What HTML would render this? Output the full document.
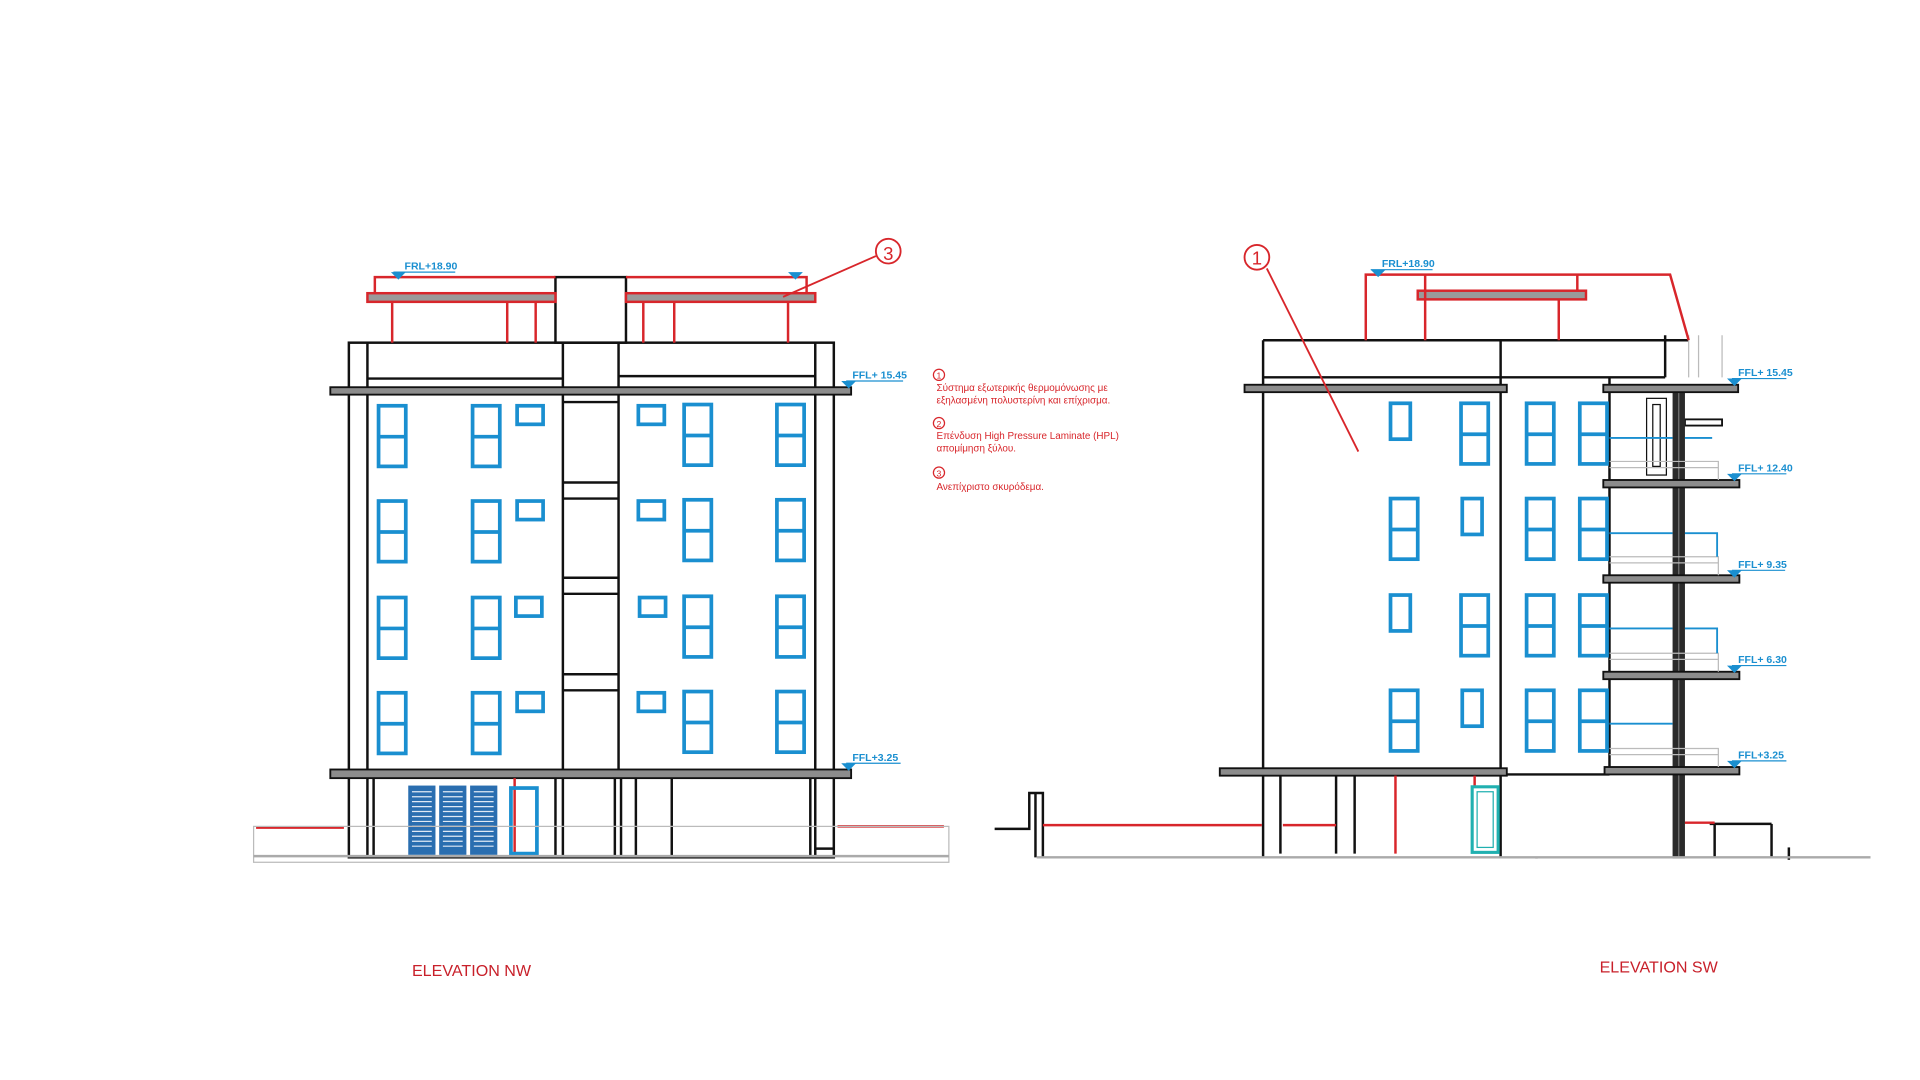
<!DOCTYPE html>
<html><head><meta charset="utf-8"><style>html,body{margin:0;padding:0;background:#fff;width:1920px;height:1080px;overflow:hidden}svg{display:block}</style></head><body>
<svg width="1920" height="1080" viewBox="0 0 1552 873" preserveAspectRatio="none" xmlns="http://www.w3.org/2000/svg" font-family="Liberation Sans, Noto Sans CJK SC, sans-serif">
<defs>
<g id="tw"><rect x="0" y="0" width="22" height="49" fill="none" stroke="#1a8fd0" stroke-width="3"/><line x1="0" y1="25" x2="22" y2="25" stroke="#1a8fd0" stroke-width="3"/></g>
<g id="swl"><rect x="0" y="0" width="21" height="15" fill="none" stroke="#1a8fd0" stroke-width="3"/></g>
<g id="swr"><rect x="0" y="0" width="16" height="29" fill="none" stroke="#1a8fd0" stroke-width="3"/></g>
<g id="lev"><path d="M-6,0 L6,0 L0,6 Z" fill="#1a8fd0"/></g>
</defs>
<g stroke="#111" stroke-width="2" fill="none">
<!-- LEFT BUILDING -->
<rect x="282" y="277" width="392" height="416"/>
<line x1="297" y1="277" x2="297" y2="693"/><line x1="659" y1="277" x2="659" y2="693"/>
<line x1="455" y1="277" x2="455" y2="622"/><line x1="500" y1="277" x2="500" y2="622"/>
<line x1="297" y1="306" x2="455" y2="306"/><line x1="500" y1="304" x2="659" y2="304"/>
<rect x="449" y="224" width="57" height="53"/>
<line x1="455" y1="390" x2="500" y2="390"/><line x1="455" y1="403" x2="500" y2="403"/>
<line x1="455" y1="467" x2="500" y2="467"/><line x1="455" y1="480" x2="500" y2="480"/>
<line x1="455" y1="545" x2="500" y2="545"/><line x1="455" y1="558" x2="500" y2="558"/>
<line x1="455" y1="325" x2="500" y2="325"/>
<line x1="302" y1="629" x2="302" y2="692"/><line x1="449" y1="629" x2="449" y2="692"/><line x1="455" y1="629" x2="455" y2="692"/>
<line x1="497" y1="629" x2="497" y2="692"/><line x1="502" y1="629" x2="502" y2="692"/><line x1="514" y1="629" x2="514" y2="692"/><line x1="543" y1="629" x2="543" y2="692"/>
<line x1="655" y1="629" x2="655" y2="692"/><line x1="659" y1="686" x2="674" y2="686"/>
</g>
<rect x="267" y="313" width="421" height="6" fill="#8c8c8c" stroke="#111" stroke-width="1.5"/>
<rect x="267" y="622" width="421" height="7" fill="#8c8c8c" stroke="#111" stroke-width="1.5"/>
<!-- red roof left -->
<g stroke="#d8262b" stroke-width="2" fill="none">
<rect x="297" y="237" width="152" height="7" fill="#9a9a9a"/><rect x="506" y="237" width="153" height="7" fill="#9a9a9a"/>
<polyline points="303,237 303,224 449,224"/><polyline points="506,224 652,224 652,237"/>
<line x1="317" y1="244" x2="317" y2="277"/><line x1="410" y1="244" x2="410" y2="277"/><line x1="433" y1="244" x2="433" y2="277"/>
<line x1="520" y1="244" x2="520" y2="277"/><line x1="545" y1="244" x2="545" y2="277"/><line x1="637" y1="244" x2="637" y2="277"/>
<line x1="416" y1="629" x2="416" y2="692"/>
<line x1="207" y1="669" x2="278" y2="669"/><line x1="677" y1="668" x2="763" y2="668"/>
<line x1="633" y1="240" x2="708" y2="207" stroke-width="1.5"/>
</g>
<circle cx="718" cy="203" r="10" fill="none" stroke="#d8262b" stroke-width="1.5"/>
<text x="718" y="210" font-size="15" fill="#d8262b" text-anchor="middle">3</text>
<!-- windows left -->
<g>
<use href="#tw" x="306" y="328"/><use href="#tw" x="382" y="328"/><use href="#tw" x="553" y="327"/><use href="#tw" x="628" y="327"/>
<use href="#tw" x="306" y="405"/><use href="#tw" x="382" y="405"/><use href="#tw" x="553" y="404"/><use href="#tw" x="628" y="404"/>
<use href="#tw" x="306" y="483"/><use href="#tw" x="382" y="483"/><use href="#tw" x="553" y="482"/><use href="#tw" x="628" y="482"/>
<use href="#tw" x="306" y="560"/><use href="#tw" x="382" y="560"/><use href="#tw" x="553" y="559"/><use href="#tw" x="628" y="559"/>
<use href="#swl" x="418" y="328"/><use href="#swl" x="516" y="328"/>
<use href="#swl" x="418" y="405"/><use href="#swl" x="516" y="405"/>
<use href="#swl" x="417" y="483"/><use href="#swl" x="517" y="483"/>
<use href="#swl" x="418" y="560"/><use href="#swl" x="516" y="560"/>
</g>
<!-- shutters -->
<g fill="#2a6eb0">
<rect x="330" y="635" width="22" height="56"/><rect x="355" y="635" width="22" height="56"/><rect x="380" y="635" width="22" height="56"/>
</g>
<g stroke="#dfe9f5" stroke-width="1">
<path d="M333 640H349M333 644H349M333 648H349M333 652H349M333 656H349M333 660H349M333 664H349M333 668H349M333 672H349M333 676H349M333 680H349M333 684H349"/>
<path d="M358 640H374M358 644H374M358 648H374M358 652H374M358 656H374M358 660H374M358 664H374M358 668H374M358 672H374M358 676H374M358 680H374M358 684H374"/>
<path d="M383 640H399M383 644H399M383 648H399M383 652H399M383 656H399M383 660H399M383 664H399M383 668H399M383 672H399M383 676H399M383 680H399M383 684H399"/>
</g>
<rect x="413" y="637" width="21" height="53" fill="none" stroke="#1a8fd0" stroke-width="3"/>
<rect x="205" y="668" width="562" height="29" fill="none" stroke="#bbb" stroke-width="1"/>
<line x1="205" y1="692" x2="767" y2="692" stroke="#aaa" stroke-width="2"/>
<!-- labels left -->
<g fill="#1a8fd0" font-size="8.5" font-weight="bold">
<text x="327" y="218">FRL+18.90</text><line x1="318" y1="220" x2="368" y2="220" stroke="#1a8fd0"/><use href="#lev" x="322" y="220"/><use href="#lev" x="643" y="220"/>
<text x="689" y="306">FFL+ 15.45</text><line x1="684" y1="308" x2="730" y2="308" stroke="#1a8fd0"/><use href="#lev" x="686" y="308"/>
<text x="689" y="615">FFL+3.25</text><line x1="684" y1="617" x2="728" y2="617" stroke="#1a8fd0"/><use href="#lev" x="686" y="617"/>
</g>
<!-- legend -->
<g fill="#d8262b" font-size="8">
<circle cx="759" cy="303" r="4.5" fill="none" stroke="#d8262b"/><text x="759" y="306" font-size="7" text-anchor="middle">1</text>
<text x="757" y="316">Σύστημα εξωτερικής θερμομόνωσης με</text>
<text x="757" y="326">εξηλασμένη πολυστερίνη και επίχρισμα.</text>
<circle cx="759" cy="342" r="4.5" fill="none" stroke="#d8262b"/><text x="759" y="345" font-size="7" text-anchor="middle">2</text>
<text x="757" y="355">Επένδυση High Pressure Laminate (HPL)</text>
<text x="757" y="365">απομίμηση ξύλου.</text>
<circle cx="759" cy="382" r="4.5" fill="none" stroke="#d8262b"/><text x="759" y="385" font-size="7" text-anchor="middle">3</text>
<text x="757" y="396">Ανεπίχριστο  σκυρόδεμα.</text>
</g>
<text x="333" y="789" font-size="13" fill="#c8202a">ELEVATION NW</text>
<text x="1293" y="786" font-size="13" fill="#c8202a">ELEVATION SW</text>

<!-- RIGHT BUILDING -->
<g stroke="#111" stroke-width="2" fill="none">
<line x1="1021" y1="275" x2="1365" y2="275"/>
<line x1="1021" y1="275" x2="1021" y2="693"/><line x1="1213" y1="275" x2="1213" y2="693"/>
<line x1="1021" y1="305" x2="1346" y2="305"/>
<line x1="1301" y1="305" x2="1301" y2="622"/>
<line x1="1218" y1="626" x2="1301" y2="626"/>
<line x1="1035" y1="627" x2="1035" y2="690"/><line x1="1080" y1="627" x2="1080" y2="690"/><line x1="1095" y1="627" x2="1095" y2="690"/>
<line x1="1386" y1="666" x2="1386" y2="693"/><line x1="1432" y1="666" x2="1432" y2="693"/><line x1="1382" y1="666" x2="1432" y2="666"/>
<line x1="1446" y1="685" x2="1446" y2="695"/><line x1="1242" y1="693" x2="1242" y2="694"/>
<polyline points="804,670 832,670 832,641 843,641 843,693"/><line x1="837" y1="641" x2="837" y2="693"/>
<rect x="1331" y="322" width="16" height="62" stroke-width="1"/><rect x="1336" y="327" width="6" height="50" stroke-width="1"/>
<rect x="1362" y="339" width="30" height="5" stroke-width="1.5"/>
<line x1="1346" y1="271" x2="1346" y2="305"/>
</g>
<rect x="1352" y="317" width="10" height="377" fill="#2a2a2a"/>
<line x1="1357" y1="317" x2="1357" y2="694" stroke="#777" stroke-width="1"/>
<g fill="#8c8c8c" stroke="#111" stroke-width="1.5">
<rect x="1006" y="311" width="212" height="6"/>
<rect x="986" y="621" width="232" height="6"/>
<rect x="1296" y="311" width="109" height="6"/><rect x="1296" y="388" width="110" height="6"/><rect x="1296" y="465" width="110" height="6"/><rect x="1296" y="543" width="110" height="6"/><rect x="1297" y="620" width="109" height="6"/>
</g>
<g stroke="#bbb" stroke-width="1" fill="none">
<path d="M1301 373H1389V388M1301 378H1389M1301 450H1389V465M1301 455H1389M1301 528H1389V543M1301 533H1389M1301 605H1389V620M1301 610H1389"/>
<path d="M1365 271V305M1373 271V305M1392 271V305"/>
</g>
<g stroke="#1a8fd0" stroke-width="1.5" fill="none">
<path d="M1301 354H1352M1362 354H1384"/>
<path d="M1301 431H1352M1362 431H1388V450"/>
<path d="M1301 508H1352M1362 508H1388V528"/>
<path d="M1301 585H1352"/>
</g>
<!-- red right -->
<g stroke="#d8262b" stroke-width="2" fill="none">
<polyline points="1104,275 1104,222 1350,222 1365,275"/>
<rect x="1146" y="235" width="136" height="7" fill="#9a9a9a"/>
<line x1="1152" y1="222" x2="1152" y2="275"/><line x1="1275" y1="222" x2="1275" y2="235"/><line x1="1260" y1="242" x2="1260" y2="275"/>
<line x1="1128" y1="627" x2="1128" y2="690"/><line x1="1192" y1="627" x2="1192" y2="636"/>
<line x1="843" y1="667" x2="1020" y2="667"/><line x1="1037" y1="667" x2="1080" y2="667"/><line x1="1362" y1="665" x2="1386" y2="665"/>
<line x1="1024" y1="217" x2="1098" y2="365" stroke-width="1.5"/>
</g>
<circle cx="1016" cy="208" r="10" fill="none" stroke="#d8262b" stroke-width="1.5"/>
<text x="1016" y="214" font-size="15" fill="#d8262b" text-anchor="middle">1</text>
<rect x="1190" y="636" width="21" height="53" fill="none" stroke="#20b0b0" stroke-width="2.5"/>
<rect x="1194" y="640" width="13" height="45" fill="none" stroke="#20b0b0" stroke-width="1"/>
<line x1="838" y1="693" x2="1512" y2="693" stroke="#aaa" stroke-width="2"/>
<g>
<use href="#swr" x="1124" y="326"/><use href="#tw" x="1181" y="326"/><use href="#tw" x="1234" y="326"/><use href="#tw" x="1277" y="326"/>
<use href="#tw" x="1124" y="403"/><use href="#swr" x="1182" y="403"/><use href="#tw" x="1234" y="403"/><use href="#tw" x="1277" y="403"/>
<use href="#swr" x="1124" y="481"/><use href="#tw" x="1181" y="481"/><use href="#tw" x="1234" y="481"/><use href="#tw" x="1277" y="481"/>
<use href="#tw" x="1124" y="558"/><use href="#swr" x="1182" y="558"/><use href="#tw" x="1234" y="558"/><use href="#tw" x="1277" y="558"/>
</g>
<g fill="#1a8fd0" font-size="8.5" font-weight="bold">
<text x="1117" y="216">FRL+18.90</text><line x1="1108" y1="218" x2="1158" y2="218" stroke="#1a8fd0"/><use href="#lev" x="1114" y="218"/>
<text x="1405" y="304">FFL+ 15.45</text><line x1="1400" y1="306" x2="1444" y2="306" stroke="#1a8fd0"/><use href="#lev" x="1402" y="306"/>
<text x="1405" y="381">FFL+ 12.40</text><line x1="1400" y1="383" x2="1444" y2="383" stroke="#1a8fd0"/><use href="#lev" x="1402" y="383"/>
<text x="1405" y="459">FFL+ 9.35</text><line x1="1400" y1="461" x2="1443" y2="461" stroke="#1a8fd0"/><use href="#lev" x="1402" y="461"/>
<text x="1405" y="536">FFL+ 6.30</text><line x1="1400" y1="538" x2="1444" y2="538" stroke="#1a8fd0"/><use href="#lev" x="1402" y="538"/>
<text x="1405" y="613">FFL+3.25</text><line x1="1400" y1="615" x2="1444" y2="615" stroke="#1a8fd0"/><use href="#lev" x="1402" y="615"/>
</g>
</svg>
</body></html>
